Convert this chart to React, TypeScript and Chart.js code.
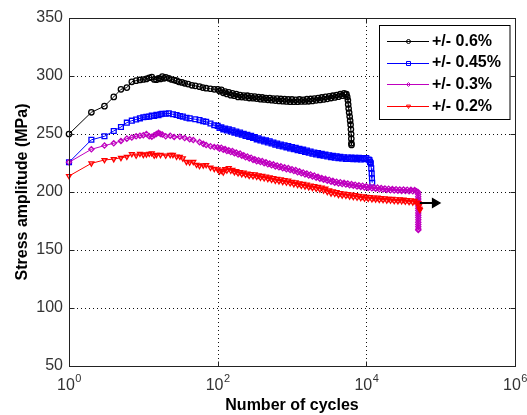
import React, { useEffect, useRef } from 'react';
import { Chart, registerables } from 'chart.js';

Chart.register(...registerables);

const FONT = "'Liberation Sans', Arial, Helvetica, sans-serif";

const xTickExponents = [0, 2, 4, 6];
const yTickValues = [50, 100, 150, 200, 250, 300, 350];
const xTitle = 'Number of cycles';
const yTitle = 'Stress amplitude (MPa)';
const seriesLabels = ['+/- 0.6%', '+/- 0.45%', '+/- 0.3%', '+/- 0.2%'];
const seriesColors = ['#000000', '#0000ff', '#bf00bf', '#ff0000'];

// cycle counts of the densely logged part of the tests (N >= 100)
const denseCycles = [
  100, 106, 112, 119, 126, 133, 141, 150, 158, 168, 178, 188, 200, 211, 224, 237, 251, 266, 282, 299,
  316, 335, 355, 376, 398, 422, 447, 473, 501, 531, 562, 596, 631, 668, 708, 750, 794, 841, 891, 944,
  1000, 1059, 1122, 1189, 1259, 1334, 1413, 1496, 1585, 1679, 1778, 1884, 1995, 2113, 2239, 2371, 2512, 2661, 2818, 2985,
  3162, 3350, 3548, 3758, 3981, 4217, 4467, 4732, 5012, 5309, 5623, 5957, 6310, 6683, 7079, 7499, 7943, 8414, 8913, 9441,
  10000, 10593, 11220, 11885, 12589, 13335, 14125, 14962, 15849, 16788, 17783, 18836, 19953, 21135, 22387, 23714, 25119, 26607, 28184, 29854,
  31623, 33497, 35481, 37584, 39811, 42170, 44668, 47315,
];

// ---- +/- 0.6 % ----
const early06: number[][] = [
  [1, 250], [2, 268.7], [3, 274], [4, 282], [5, 288.5], [6, 290], [7, 295], [8, 296], [9, 296.6], [10, 297],
  [11, 297.5], [12, 298.5], [13, 299], [14, 297], [15, 296.8], [16, 298], [17, 297.5], [18, 299.5], [19, 298], [20, 298.8],
  [22, 298], [24, 297], [26, 296.5], [28, 296], [30, 295], [33, 294.5], [36, 293.7], [40, 293], [45, 292], [50, 291.5],
  [57, 290.8], [63, 290], [70, 289.5], [80, 289], [90, 288.5],
];
const dense06 = [
  288.5, 287, 288, 285.5, 286.5, 284.5, 286, 283.5, 285, 283, 284.5, 282, 283.5, 281.8, 283.2, 281.5, 283, 281, 282.5, 280.8,
  282.2, 280.5, 281.8, 280, 281.5, 279.8, 281, 279.5, 281, 279.2, 280.6, 278.8, 280.5, 278.5, 280.2, 278.3, 280, 278, 279.8, 277.8,
  279.8, 277.8, 279.5, 277.8, 279.8, 278, 279.5, 278, 280, 278.2, 280.2, 278.5, 280.5, 279, 281, 279.3, 281.5, 279.8, 282, 280.3,
  282.5, 281, 283, 281.5, 283.6, 282.2, 284.3, 283, 285,
];
const tail06: number[][] = [
  [5250, 284], [5400, 284.5], [5530, 282], [5650, 279], [5700, 275.5], [5780, 272], [5870, 268.5], [5970, 265], [6060, 261.5], [6140, 258],
  [6200, 254], [6250, 250], [6280, 246], [6300, 242], [6320, 240.5],
];

// ---- +/- 0.45 % ----
const early045: number[][] = [
  [1, 225.6], [2, 245], [3, 248], [4, 252.6], [5, 256], [6, 259.8], [7, 261.5], [8, 262.5], [9, 263.5], [10, 264.4],
  [11, 264.8], [12, 265], [13, 265.8], [14, 265.5], [15, 266.5], [16, 266.2], [17, 267], [18, 267.5], [20, 267.5], [22, 267.8],
  [25, 267], [28, 266.4], [31, 265.5], [34, 265], [38, 264], [42, 263.5], [50, 262.7], [57, 262], [64, 261], [70, 260.5],
  [80, 259], [90, 257.5],
];
const dense045 = [
  257, 255.2, 255.8, 254, 254.8, 253, 254, 252.2, 253.2, 251.2, 252.2, 250.3, 251.2, 249.3, 250.2, 248.4, 249.3, 247.4, 248.4, 246.5,
  247.3, 245.4, 246.3, 244.5, 245.3, 243.6, 244.5, 242.7, 243.7, 241.8, 242.7, 240.8, 241.7, 239.9, 241, 239.2, 240.2, 238.5, 239.6, 237.6,
  238.7, 236.9, 238, 236.1, 237.2, 235.4, 236.5, 234.6, 235.7, 233.8, 234.9, 233, 234.1, 232.4, 233.5, 231.8, 232.9, 231.2, 232.2, 230.6,
  231.7, 230.1, 231.2, 229.6, 230.7, 229.2, 230.3, 228.9, 230, 228.6, 229.7, 228.4, 229.6, 228.3, 229.4, 228.2, 229.4, 228.1, 229.3, 228.2,
  229.3,
];
const tail045: number[][] = [
  [10700, 228], [11000, 227.5], [11220, 226], [11500, 224.7], [11650, 220.4], [11800, 216], [11900, 211.8], [12000, 208],
];

// ---- +/- 0.3 % ----
const early03: number[][] = [
  [1, 225.6], [2, 236.8], [3, 240], [4, 242], [5, 244], [6, 246], [7, 247], [8, 248], [9, 248.5], [10, 249],
  [11, 250], [12, 248], [13, 247.7], [14, 249], [15, 250], [16, 251], [17, 250], [18, 249.5], [20, 248], [23, 248.5],
  [26, 247.5], [31, 247.7], [36, 246.5], [42, 245.5], [47, 244.8], [57, 243], [64, 241.5], [70, 240.5], [80, 239.5], [90, 238.8],
];
const dense03 = [
  238.6, 237.2, 238.2, 236.4, 237.1, 235.3, 235.9, 234.4, 235.3, 233.5, 234.1, 232.4, 233.1, 231.2, 231.6, 229.9, 230.6, 228.9, 229.6, 227.7,
  228.2, 226.6, 227.4, 225.8, 226.6, 224.9, 225.6, 223.9, 224.6, 223, 223.8, 222.1, 222.9, 221.3, 222.1, 220.5, 221.3, 219.7, 220.6, 218.9,
  219.6, 218.1, 218.9, 217.1, 217.8, 216.1, 216.8, 215.2, 215.9, 214.3, 215.1, 213.4, 214.1, 212.4, 213.1, 211.4, 212.1, 210.5, 211.3, 209.7,
  210.6, 208.9, 209.6, 208, 208.9, 207.4, 208.4, 206.9, 207.9, 206.4, 207.4, 205.9, 206.8, 205.3, 206.3, 204.8, 205.8, 204.4, 205.4, 203.9,
  204.9, 203.5, 204.6, 203.2, 204.2, 202.8, 203.8, 202.4, 203.4, 202.1, 203.1, 201.8, 202.8, 201.5, 202.6, 201.3, 202.4, 201.1, 202.2, 200.9,
  202.1, 200.8, 202, 200.7, 201.9, 200.6, 201.8, 200.6,
];
const tail03: number[][] = [
  [49500, 200], [49800, 198], [49900, 196], [50000, 194], [50000, 192], [50000, 190], [50000, 188], [50000, 186], [50000, 184], [50000, 182],
  [50000, 180], [50000, 178], [50000, 176], [50000, 174], [50000, 172], [50000, 170], [50000, 168], [50000, 167.2],
];

// ---- +/- 0.2 % ----
const early02: number[][] = [
  [1, 213.8], [2, 224.7], [3, 227.6], [4, 228.4], [5, 229.5], [6, 230.4], [7, 232.8], [8, 231.5], [9, 233], [10, 232],
  [11, 232.5], [12, 233], [13, 233.4], [14, 231.5], [15, 232], [17, 232], [20, 231.5], [23, 232], [25, 232], [28, 230.5],
  [31, 230.4], [34, 229], [38, 226], [42, 225.5], [47, 226], [52, 223.5], [57, 222.5], [64, 223], [70, 223.3], [80, 221],
  [90, 220],
];
const dense02 = [
  219.5, 217.8, 218.4, 216.9, 219.8, 218.6, 220.6, 218.4, 219.2, 217.2, 218, 216.2, 217.3, 215.4, 216.8, 214.9, 215.9, 214, 215.4, 213.7,
  215.2, 213.2, 214.3, 212.4, 213.9, 211.9, 213.4, 211.3, 212.6, 210.6, 212, 209.8, 211.4, 209.4, 210.9, 208.8, 210.4, 208.2, 209.9, 207.6,
  208.9, 206.8, 208.4, 206.1, 207.4, 205.4, 207, 204.9, 206.4, 204.1, 205.5, 203.6, 205.1, 202.9, 204.4, 202.3, 203.9, 201.4, 202.9, 200.1,
  201.4, 198.9, 200.5, 198.5, 199.9, 197.6, 199.1, 197.1, 198.6, 196.8, 198.2, 196.3, 197.8, 195.8, 197.3, 195.3, 196.8, 194.9, 196.3, 194.4,
  195.8, 194.3, 195.7, 193.8, 195.2, 193.7, 195.2, 193.3, 194.7, 193.2, 194.6, 192.8, 194.2, 192.7, 194.1, 192.3, 193.7, 192.2, 193.6, 192.1,
  193.4, 191.8, 193.1, 191.5, 192.8, 191.1, 192.4, 190.9,
];
const tail02: number[][] = [
  [50120, 190.5], [51300, 188], [52000, 185.5], [52500, 184.5],
];

// run-out arrow (test stopped without failure)
const runoutCycles = [52500, 84000];
const runoutStress = [190.5, 190.5];

function buildSeries(early: number[][], dense: number[], tail: number[][]) {
  const pts = early.map(([x, y]) => ({ x, y }));
  dense.forEach((y, i) => {
    if (i < denseCycles.length) pts.push({ x: denseCycles[i], y });
  });
  tail.forEach(([x, y]) => pts.push({ x, y }));
  return pts;
}

function drawMarker(ctx: CanvasRenderingContext2D, kind: number, x: number, y: number, r: number) {
  ctx.beginPath();
  if (kind === 0) {
    ctx.arc(x, y, r, 0, Math.PI * 2);
  } else if (kind === 1) {
    ctx.rect(x - r, y - r, 2 * r, 2 * r);
  } else if (kind === 2) {
    ctx.moveTo(x, y - r);
    ctx.lineTo(x + r, y);
    ctx.lineTo(x, y + r);
    ctx.lineTo(x - r, y);
    ctx.closePath();
  } else {
    ctx.moveTo(x - r, y - r * 0.7);
    ctx.lineTo(x + r, y - r * 0.7);
    ctx.lineTo(x, y + r);
    ctx.closePath();
  }
  ctx.stroke();
}

const framePlugin = {
  id: 'matlabFrame',
  beforeDatasetsDraw(chart: any) {
    const { ctx, chartArea: a, scales } = chart;
    const xs = scales.x;
    const ys = scales.y;
    ctx.save();
    ctx.strokeStyle = '#111';
    ctx.lineWidth = 1;
    ctx.setLineDash([1, 3]);
    for (const v of yTickValues) {
      if (v <= yTickValues[0] || v >= yTickValues[yTickValues.length - 1]) continue;
      const py = Math.round(ys.getPixelForValue(v)) + 0.5;
      ctx.beginPath();
      ctx.moveTo(a.left, py);
      ctx.lineTo(a.right, py);
      ctx.stroke();
    }
    for (const e of xTickExponents) {
      if (e === xTickExponents[0] || e === xTickExponents[xTickExponents.length - 1]) continue;
      const px = Math.round(xs.getPixelForValue(Math.pow(10, e))) + 0.5;
      ctx.beginPath();
      ctx.moveTo(px, a.top);
      ctx.lineTo(px, a.bottom);
      ctx.stroke();
    }
    ctx.restore();
  },
  afterDraw(chart: any) {
    const { ctx, chartArea: a, scales } = chart;
    const xs = scales.x;
    const ys = scales.y;
    ctx.save();
    ctx.strokeStyle = '#222';
    ctx.lineWidth = 1;
    ctx.setLineDash([]);
    const L = Math.round(a.left) + 0.5;
    const R = Math.round(a.right) + 0.5;
    const T = Math.round(a.top) + 0.5;
    const B = Math.round(a.bottom) + 0.5;
    ctx.strokeRect(L, T, R - L, B - T);
    const tl = 5;
    ctx.beginPath();
    for (const v of yTickValues) {
      const py = Math.round(ys.getPixelForValue(v)) + 0.5;
      ctx.moveTo(L, py); ctx.lineTo(L + tl, py);
      ctx.moveTo(R, py); ctx.lineTo(R - tl, py);
    }
    for (const e of xTickExponents) {
      const px = Math.round(xs.getPixelForValue(Math.pow(10, e))) + 0.5;
      ctx.moveTo(px, B); ctx.lineTo(px, B - tl);
      ctx.moveTo(px, T); ctx.lineTo(px, T + tl);
    }
    ctx.stroke();

    // x tick labels 10^n
    ctx.fillStyle = '#333';
    ctx.textBaseline = 'alphabetic';
    ctx.textAlign = 'left';
    for (const e of xTickExponents) {
      const px = xs.getPixelForValue(Math.pow(10, e));
      const base = '10';
      const sup = String(e);
      ctx.font = `16px ${FONT}`;
      const wb = ctx.measureText(base).width;
      ctx.font = `11px ${FONT}`;
      const ws = ctx.measureText(sup).width;
      const start = px - (wb + ws) / 2;
      ctx.font = `16px ${FONT}`;
      ctx.fillText(base, start, 390);
      ctx.font = `11px ${FONT}`;
      ctx.fillText(sup, start + wb + 0.5, 382);
    }

    // legend
    const bx = 379.5, by = 25.5, bw = 130.5, bh = 94;
    ctx.fillStyle = '#fff';
    ctx.fillRect(bx, by, bw, bh);
    ctx.strokeStyle = '#000';
    ctx.strokeRect(bx, by, bw, bh);
    const rows = [40.8, 62.5, 84.2, 105.8];
    for (let i = 0; i < seriesLabels.length; i++) {
      const ry = Math.round(rows[i]) + 0.5;
      ctx.strokeStyle = seriesColors[i];
      ctx.lineWidth = 1;
      ctx.beginPath();
      ctx.moveTo(387, ry);
      ctx.lineTo(429, ry);
      ctx.stroke();
      drawMarker(ctx, i, 408.5, ry, 2);
      ctx.fillStyle = '#000';
      ctx.font = `bold 16px ${FONT}`;
      ctx.textBaseline = 'middle';
      ctx.fillText(seriesLabels[i], 432, rows[i] + 0.5);
    }
    ctx.restore();
  },
};

export default function App() {
  const ref = useRef<HTMLCanvasElement>(null);
  useEffect(() => {
    const canvas = ref.current!;
    const common = {
      borderWidth: 1,
      pointBorderWidth: 1.3,
      pointBackgroundColor: 'rgba(0,0,0,0)',
      tension: 0,
      clip: false as any,
      fill: false,
    };
    const chart = new Chart(canvas, {
      type: 'line',
      data: {
        datasets: [
          {
            ...common,
            label: seriesLabels[0],
            data: buildSeries(early06, dense06, tail06),
            borderColor: seriesColors[0],
            pointBorderColor: seriesColors[0],
            pointStyle: 'circle',
            pointRadius: 2.7,
            order: 4,
          },
          {
            ...common,
            label: seriesLabels[1],
            data: buildSeries(early045, dense045, tail045),
            borderColor: seriesColors[1],
            pointBorderColor: seriesColors[1],
            pointStyle: 'rect',
            pointRadius: 3.4,
            order: 3,
          },
          {
            ...common,
            label: seriesLabels[2],
            data: buildSeries(early03, dense03, tail03),
            borderColor: seriesColors[2],
            pointBorderColor: seriesColors[2],
            pointStyle: 'rectRot',
            pointRadius: 2.6,
            order: 2,
          },
          {
            ...common,
            label: seriesLabels[3],
            data: buildSeries(early02, dense02, tail02),
            borderColor: seriesColors[3],
            pointBorderColor: seriesColors[3],
            pointStyle: 'triangle',
            pointRotation: 180,
            pointRadius: 2.8,
            order: 1,
          },
          {
            ...common,
            label: 'run-out',
            data: runoutCycles.map((x, i) => ({ x, y: runoutStress[i] })),
            borderColor: '#000',
            borderWidth: 2,
            pointBorderColor: '#000',
            pointBackgroundColor: '#000',
            pointStyle: 'triangle',
            pointRotation: 90,
            pointRadius: [0, 5],
            order: 0,
          },
        ] as any,
      },
      options: {
        animation: false,
        responsive: false,
        events: [],
        layout: { padding: { left: 0, right: 12, top: 18, bottom: 0 } },
        plugins: { legend: { display: false }, tooltip: { enabled: false } },
        scales: {
          x: {
            type: 'logarithmic',
            min: 1,
            max: 1e6,
            afterBuildTicks: (s: any) => {
              s.ticks = xTickExponents.map((e) => ({ value: Math.pow(10, e) }));
            },
            afterFit: (s: any) => {
              s.height = 49;
            },
            ticks: { display: false },
            grid: { display: false, drawTicks: false, tickLength: 0 },
            border: { display: false },
            title: {
              display: true,
              text: xTitle,
              color: '#000',
              font: { family: FONT, size: 16, weight: 'bold' },
              padding: { top: 0, bottom: 0 },
            },
          },
          y: {
            type: 'linear',
            min: yTickValues[0],
            max: yTickValues[yTickValues.length - 1],
            afterBuildTicks: (s: any) => {
              s.ticks = yTickValues.map((v) => ({ value: v }));
            },
            afterFit: (s: any) => {
              s.width = 69;
            },
            ticks: {
              color: '#333',
              font: { family: FONT, size: 16 },
              padding: 6,
            },
            grid: { display: false, drawTicks: false, tickLength: 0 },
            border: { display: false },
            title: {
              display: true,
              text: yTitle,
              color: '#000',
              font: { family: FONT, size: 16, weight: 'bold' },
              padding: { top: 13, bottom: 0 },
            },
          },
        },
      } as any,
      plugins: [framePlugin],
    });
    return () => chart.destroy();
  }, []);
  return (
    <div style={{ position: 'fixed', left: 0, top: 0, width: 527, height: 415, background: '#fff' }}>
      <canvas ref={ref} width={527} height={415} style={{ display: 'block', width: 527, height: 415 }} />
    </div>
  );
}
